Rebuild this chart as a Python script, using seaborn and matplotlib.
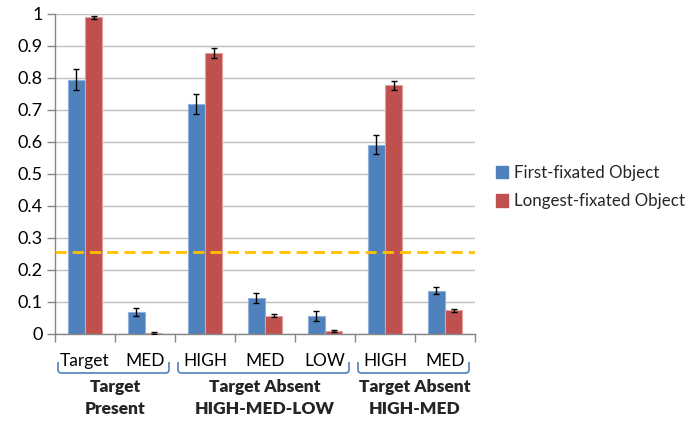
import matplotlib
matplotlib.use("Agg")
import matplotlib.pyplot as plt
import matplotlib.transforms as mtransforms
from matplotlib.path import Path
from matplotlib.patches import PathPatch, Patch
import numpy as np
import pandas as pd
import seaborn as sns

# Fixation proportions per object condition
categories = ["Target", "MED", "HIGH", "MED", "LOW", "HIGH", "MED"]
first_fixated = [0.795, 0.068, 0.719, 0.112, 0.057, 0.592, 0.135]
first_err = [0.034, 0.012, 0.030, 0.016, 0.016, 0.030, 0.011]
longest_fixated = [0.990, 0.003, 0.879, 0.057, 0.009, 0.777, 0.074]
longest_err = [0.005, 0.002, 0.015, 0.005, 0.004, 0.015, 0.004]
series_names = ["First-fixated Object", "Longest-fixated Object"]
group_labels = ["Target\nPresent", "Target Absent\nHIGH-MED-LOW", "Target Absent\nHIGH-MED"]
group_spans = [(0, 1), (2, 4), (5, 6)]
chance_level = 0.255

keys = [f"{i}_{c}" for i, c in enumerate(categories)]
df = pd.DataFrame({
    "cond": keys * 2,
    "series": [series_names[0]] * len(keys) + [series_names[1]] * len(keys),
    "value": first_fixated + longest_fixated,
})

colors = ["#4F81BD", "#C0504D"]
edges = ["#8EB0DA", "#E0A09E"]

sns.set_theme(style="white")
plt.rcParams["font.family"] = ["Lato", "DejaVu Sans"]

fig = plt.figure(figsize=(6.9, 4.21), dpi=100)
ax = fig.add_axes([55 / 690, 87 / 421, 420 / 690, 320 / 421])

sns.barplot(data=df, x="cond", y="value", hue="series", order=keys,
            hue_order=series_names, palette=colors, saturation=1, width=0.57,
            errorbar=None, legend=False, ax=ax, zorder=2)

# colour the bar outlines and attach error bars
n = len(keys)
for s, (errs, vals) in enumerate([(first_err, first_fixated), (longest_err, longest_fixated)]):
    patches = ax.patches[s * n:(s + 1) * n]
    xs = []
    for p in patches:
        p.set_edgecolor(edges[s])
        p.set_linewidth(0.8)
        xs.append(p.get_x() + p.get_width() / 2)
    ax.errorbar(xs, vals, yerr=errs, fmt="none", ecolor="black",
                elinewidth=1.0, capsize=2.5, capthick=1.0, zorder=4)

# chance level
ax.axhline(chance_level, color="#FFC000", lw=2.0, ls=(0, (4, 2.2)), zorder=3)

ax.set_xlim(-0.5, n - 0.5)
ax.set_ylim(0, 1)
ax.set_yticks(np.arange(0, 1.01, 0.1))
ax.set_yticklabels(["0", "0.1", "0.2", "0.3", "0.4", "0.5", "0.6", "0.7", "0.8", "0.9", "1"])
ax.yaxis.grid(True, color="#BFBFBF", lw=1.0, zorder=0)
ax.set_axisbelow(True)

# boundary ticks between categories, labels at category centres
ax.set_xticks(np.arange(-0.5, n, 1.0))
ax.set_xticklabels([])
ax.set_xticks(np.arange(n), minor=True)
ax.set_xticklabels(categories, minor=True)
ax.tick_params(axis="x", which="major", length=6, width=1, color="#868686", direction="out", bottom=True)
ax.tick_params(axis="x", which="minor", length=0, pad=14, labelsize=12.5, labelcolor="black")
ax.tick_params(axis="y", length=6, width=1, color="#868686", direction="out", left=True,
               labelsize=13, labelcolor="black", pad=3)
ax.set_xlabel("")
ax.set_ylabel("")

for side in ["top", "right"]:
    ax.spines[side].set_visible(False)
for side in ["left", "bottom"]:
    ax.spines[side].set_color("#868686")
    ax.spines[side].set_linewidth(1.0)

# group brackets and labels below the axis
trans = mtransforms.blended_transform_factory(ax.transData, fig.transFigure)
y_top = 1 - 362 / 421
y_bot = 1 - 373 / 421
r = 0.06
for (a, b), label in zip(group_spans, group_labels):
    x0 = a - 0.5 + 0.05
    x1 = b + 0.5 - 0.1
    verts = [(x0, y_top), (x0, y_bot + 0.008), (x0, y_bot), (x0 + r, y_bot),
             (x1 - r, y_bot), (x1, y_bot), (x1, y_bot + 0.008), (x1, y_top)]
    codes = [Path.MOVETO, Path.LINETO, Path.CURVE3, Path.CURVE3,
             Path.LINETO, Path.CURVE3, Path.CURVE3, Path.LINETO]
    ax.add_patch(PathPatch(Path(verts, codes), transform=trans, fill=False,
                           edgecolor="#4F81BD", lw=1.2, clip_on=False))
    fig.text((a + b) / 2, 1 - 379 / 421, label, transform=trans, fontsize=12.5,
             fontweight="heavy", ha="center", va="top", linespacing=1.5)

# legend
handles = [Patch(facecolor=c, edgecolor=c) for c in colors]
fig.legend(handles, series_names, loc="upper left", bbox_to_anchor=(489 / 690, 1 - 158 / 421),
           frameon=False, fontsize=12.2, handlelength=0.75, handleheight=0.75,
           handletextpad=0.35, labelspacing=0.75, borderaxespad=0)

fig.savefig("out.png", dpi=100)
